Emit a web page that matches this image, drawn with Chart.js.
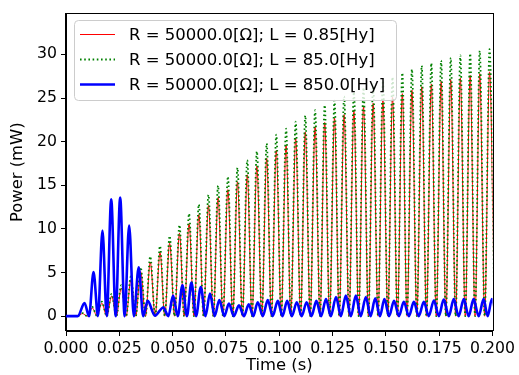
<!DOCTYPE html>
<html>
<head>
<meta charset="utf-8">
<title>Power vs time</title>
<script src="https://cdn.jsdelivr.net/npm/chart.js@4.4.1/dist/chart.umd.min.js"></script>
<style>
    body { margin: 0; background: white; }
    canvas { display: block; }
</style>
</head>
<body>
<canvas id="kayra" width="519" height="375"></canvas>
<script>
// time stamps (s) of peaks and troughs, red & green share them
const rgTime = [
    0, 0.0010, 0.0032, 0.0055, 0.0077, 0.0100, 0.0123, 0.0146,
    0.0168, 0.0191, 0.0214, 0.0236, 0.0259, 0.0282, 0.0304, 0.0327,
    0.0350, 0.0373, 0.0395, 0.0418, 0.0441, 0.0463, 0.0486, 0.0509,
    0.0532, 0.0554, 0.0577, 0.0600, 0.0623, 0.0645, 0.0668, 0.0691,
    0.0713, 0.0736, 0.0759, 0.0782, 0.0804, 0.0827, 0.0850, 0.0872,
    0.0895, 0.0918, 0.0941, 0.0963, 0.0986, 0.1009, 0.1032, 0.1054,
    0.1077, 0.1100, 0.1122, 0.1145, 0.1168, 0.1191, 0.1213, 0.1236,
    0.1259, 0.1281, 0.1304, 0.1327, 0.1350, 0.1372, 0.1395, 0.1418,
    0.1440, 0.1463, 0.1486, 0.1509, 0.1531, 0.1554, 0.1577, 0.1599,
    0.1622, 0.1645, 0.1668, 0.1690, 0.1713, 0.1736, 0.1759, 0.1781,
    0.1804, 0.1827, 0.1849, 0.1872, 0.1895, 0.1918, 0.1940, 0.1963,
    0.1986, 0.2009
];

// L = 0.85 Hy
const redPower = [
    0, 0, 0.05, 0, 0.3, 0, 0.95, 0,
    1.5, 0, 2.3, 0, 3.2, 0, 4.1, 0,
    5.1, 0, 6.2, 0, 7.3, 0, 8.35, 0,
    9.5, 0, 10.6, 0, 11.65, 0, 12.7, 0,
    13.6, 0, 14.5, 0, 15.4, 0, 16.2, 0,
    17.2, 0, 18.1, 0, 19.0, 0, 19.6, 0,
    20.4, 0, 21.1, 0, 21.7, 0, 22.2, 0,
    22.7, 0, 23.1, 0, 23.6, 0, 24.0, 0,
    24.4, 0, 24.8, 0, 25.1, 0, 25.5, 0,
    25.9, 0, 26.3, 0, 26.6, 0, 26.9, 0,
    27.1, 0, 27.3, 0, 27.6, 0, 27.8, 0,
    28.0, 0
];

// L = 85.0 Hy
const greenPower = [
    0, 0, 0.05, 0, 0.35, 0, 1.05, 0,
    1.65, 0, 2.55, 0, 3.55, 0, 4.55, 0,
    5.6, 0, 6.85, 0, 8.05, 0, 9.2, 0,
    10.45, 0, 11.75, 0, 12.8, 0, 13.9, 0,
    14.95, 0, 16.0, 0, 17.0, 0, 17.9, 0,
    18.9, 0, 19.8, 0, 20.8, 0, 21.5, 0,
    22.3, 0, 23.0, 0, 23.6, 0, 24.2, 0,
    24.7, 0, 25.2, 0, 25.7, 0, 26.2, 0,
    26.6, 0, 27.0, 0, 27.4, 0, 27.9, 0,
    28.3, 0, 28.7, 0, 29.0, 0, 29.3, 0,
    29.6, 0, 29.9, 0, 30.1, 0, 30.4, 0,
    30.6, 0
];

// L = 850.0 Hy
const blueTime = [
    0, 0.0055, 0.0087, 0.0108, 0.0129, 0.0150, 0.0171, 0.0191,
    0.0212, 0.0233, 0.0254, 0.0275, 0.0296, 0.0318, 0.0341, 0.0362,
    0.0383, 0.0417, 0.0456, 0.0480, 0.0502, 0.0524, 0.0546, 0.0567,
    0.0588, 0.0610, 0.0632, 0.0654, 0.0675, 0.0697, 0.0719, 0.0742,
    0.0764, 0.0787, 0.0811, 0.0834, 0.0857, 0.0878, 0.0899, 0.0923,
    0.0946, 0.0969, 0.0993, 0.1015, 0.1037, 0.1059, 0.1082, 0.1105,
    0.1128, 0.1151, 0.1174, 0.1196, 0.1219, 0.1242, 0.1266, 0.1289,
    0.1312, 0.1336, 0.1359, 0.1382, 0.1406, 0.1428, 0.1450, 0.1472,
    0.1493, 0.1515, 0.1538, 0.1561, 0.1584, 0.1608, 0.1631, 0.1654,
    0.1678, 0.1701, 0.1725, 0.1748, 0.1771, 0.1795, 0.1818, 0.1841,
    0.1865, 0.1888, 0.1911, 0.1935, 0.1958, 0.1977, 0.1997, 0.2017
];

const bluePower = [
    0, 0, 1.5, 0, 5.05, 0, 9.8, 0,
    13.4, 0, 13.6, 0, 10.4, 0, 5.6, 0,
    1.75, 0.05, 1.0, 0, 2.35, 0, 3.55, 0,
    3.85, 0, 3.35, 0, 2.6, 0, 1.85, 0,
    1.45, 0, 1.25, 0, 1.35, 0, 1.6, 0,
    1.85, 0, 1.75, 0, 1.75, 0, 1.6, 0,
    1.6, 0, 1.75, 0, 1.95, 0, 2.2, 0,
    2.35, 0, 2.35, 0, 2.2, 0, 2.05, 0,
    1.95, 0, 1.75, 0, 1.65, 0, 1.65, 0,
    1.65, 0, 1.8, 0, 1.9, 0, 1.95, 0,
    1.95, 0, 1.95, 0, 1.95, 0, 1.95, 0
];

const seriesLabels = [
    'R = 50000.0[Ω]; L = 0.85[Hy]',
    'R = 50000.0[Ω]; L = 85.0[Hy]',
    'R = 50000.0[Ω]; L = 850.0[Hy]'
];

const xTicks = [0, 0.025, 0.05, 0.075, 0.1, 0.125, 0.15, 0.175, 0.2];
const yTicks = [0, 5, 10, 15, 20, 25, 30];

const FONT = "'DejaVu Sans', sans-serif";

Chart.defaults.color = '#000';
Chart.defaults.font.family = FONT;

function toPoints( times, values )
{
    return times.map( ( t, i ) => ( { x: t, y: values[ i ] } ) );
}

// matplotlib-like box + legend inside the axes
const frameAndLegend = {
    id: 'frameAndLegend',
    afterDraw( chart )
    {
        const ctx = chart.ctx;
        const a = chart.chartArea;
        ctx.save();
        ctx.strokeStyle = '#000';
        ctx.lineWidth = 1;
        ctx.strokeRect( Math.round( a.left ) - 0.5, Math.round( a.top ) + 0.5,
            Math.round( a.right - a.left ) + 1, Math.round( a.bottom - a.top ) - 1 );

        // legend box
        const bx = 74.5, by = 20.5, bw = 322, bh = 80, r = 4;
        ctx.beginPath();
        ctx.moveTo( bx + r, by );
        ctx.arcTo( bx + bw, by, bx + bw, by + bh, r );
        ctx.arcTo( bx + bw, by + bh, bx, by + bh, r );
        ctx.arcTo( bx, by + bh, bx, by, r );
        ctx.arcTo( bx, by, bx + bw, by, r );
        ctx.closePath();
        ctx.fillStyle = 'rgba(255,255,255,0.8)';
        ctx.fill();
        ctx.strokeStyle = '#cccccc';
        ctx.stroke();

        const rows = [ 34.5, 59.5, 84.5 ];
        ctx.font = '16.5px ' + FONT;
        ctx.textBaseline = 'middle';
        ctx.textAlign = 'left';
        chart.data.datasets.forEach( ( ds, i ) =>
        {
            ctx.beginPath();
            ctx.strokeStyle = ds.borderColor;
            ctx.lineWidth = ds.borderWidth;
            ctx.setLineDash( ds.borderDash || [] );
            ctx.moveTo( 80, rows[ i ] );
            ctx.lineTo( 115, rows[ i ] );
            ctx.stroke();
            ctx.setLineDash( [] );
            ctx.fillStyle = '#000';
            ctx.fillText( ds.label, 129, rows[ i ] + 1 );
        } );
        ctx.restore();
    }
};

const powerConfig = {
    type: 'line',
    data: {
        datasets: [
            {
                label: seriesLabels[ 0 ],
                data: toPoints( rgTime, redPower ),
                borderColor: '#ff0000',
                borderWidth: 1,
                order: 3
            },
            {
                label: seriesLabels[ 1 ],
                data: toPoints( rgTime, greenPower ),
                borderColor: '#008000',
                borderWidth: 1.8,
                borderDash: [ 1.6, 2.6 ],
                order: 2
            },
            {
                label: seriesLabels[ 2 ],
                data: toPoints( blueTime, bluePower ),
                borderColor: '#0000ff',
                borderWidth: 2.6,
                order: 1
            }
        ]
    },
    options: {
        responsive: false,
        animation: false,
        devicePixelRatio: 1,
        layout: {
            padding: { top: 12, right: 25, left: 0, bottom: 0 }
        },
        elements: {
            point: { radius: 0 },
            line: { cubicInterpolationMode: 'monotone', fill: false }
        },
        plugins: {
            legend: { display: false },
            tooltip: { enabled: false }
        },
        scales: {
            x: {
                type: 'linear',
                min: 0,
                max: 0.2,
                afterFit: function ( scale ) { scale.height = 44; },
                afterBuildTicks: function ( scale ) { scale.ticks = xTicks.map( v => ( { value: v } ) ); },
                ticks: {
                    autoSkip: false,
                    maxRotation: 0,
                    padding: 4,
                    font: { size: 15.7 },
                    callback: function ( value ) { return value.toFixed( 3 ); }
                },
                grid: {
                    drawOnChartArea: false,
                    drawTicks: true,
                    tickLength: 5,
                    color: '#000'
                },
                border: { display: true, color: '#000', width: 1 },
                title: {
                    display: true,
                    text: 'Time (s)',
                    font: { size: 16.4, lineHeight: 1 },
                    padding: { top: 0, bottom: 1 }
                }
            },
            y: {
                min: -1.7,
                max: 34.7,
                afterFit: function ( scale ) { scale.width = 66; },
                afterBuildTicks: function ( scale ) { scale.ticks = yTicks.map( v => ( { value: v } ) ); },
                ticks: {
                    padding: 4,
                    font: { size: 15.7 }
                },
                grid: {
                    drawOnChartArea: false,
                    drawTicks: true,
                    tickLength: 5,
                    color: '#000'
                },
                border: { display: true, color: '#000', width: 1 },
                title: {
                    display: true,
                    text: 'Power (mW)',
                    font: { size: 16.4, lineHeight: 1 },
                    padding: { top: 10, bottom: 0 }
                }
            }
        }
    },
    plugins: [ frameAndLegend ]
};

new Chart( document.getElementById( 'kayra' ).getContext( '2d' ), powerConfig );
</script>
</body>
</html>
